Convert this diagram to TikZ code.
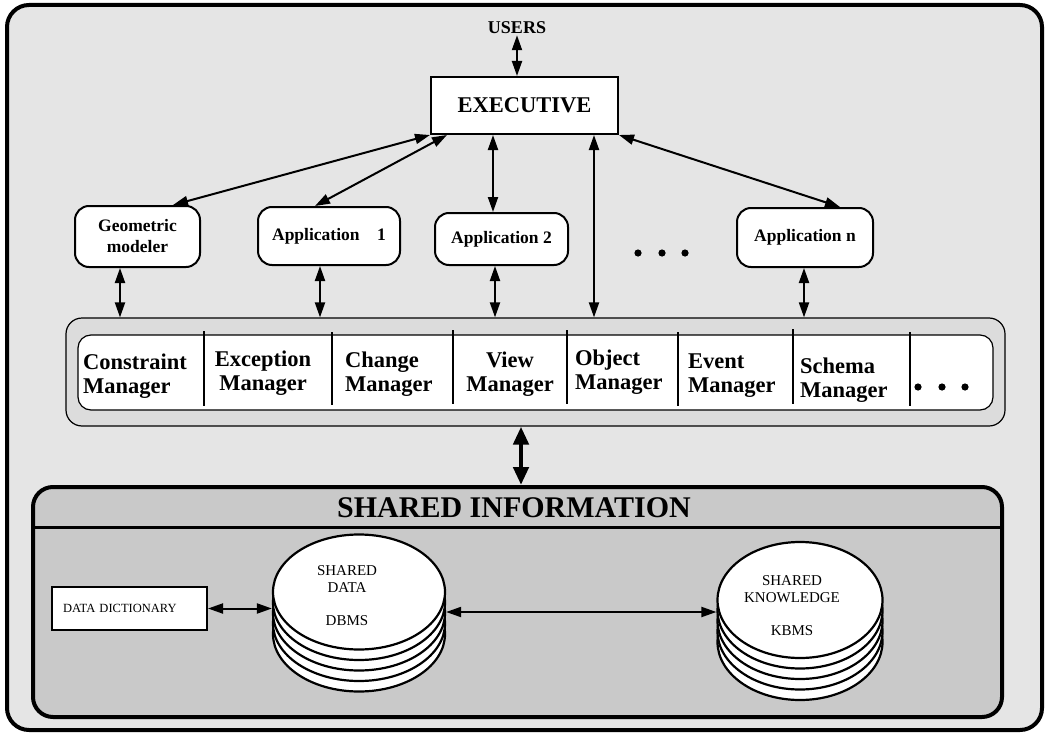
\documentclass[tikz,border=0pt]{standalone}
\usepackage{fontspec}
\setmainfont{Liberation Serif}
\usetikzlibrary{arrows.meta,shapes.geometric}
\definecolor{framebg}{HTML}{E5E5E5}
\definecolor{mgrbg}{HTML}{DCDCDC}
\definecolor{infobg}{HTML}{C9C9C9}
\begin{document}
\begin{tikzpicture}[x=1pt,y=-1pt,
  dbl/.style={{Triangle[length=15pt,width=10pt]}-{Triangle[length=15pt,width=10pt]}, line width=2pt},
  bigdbl/.style={{Triangle[length=18pt,width=15pt]}-{Triangle[length=18pt,width=15pt]}, line width=4.5pt},
  appbox/.style={draw, line width=2pt, fill=white, rounded corners=14pt, inner sep=0pt,
    font=\fontsize{17.5}{21}\selectfont\bfseries, align=center},
  mlabel/.style={font=\fontsize{22.5}{24}\selectfont\bfseries, inner sep=0pt},
  sepline/.style={line width=1.2pt},
  disk/.style={draw, line width=2.2pt, fill=white},
  dlabel/.style={font=\fontsize{15}{17}\selectfont, align=center, inner sep=0pt},
  dot/.style={fill=black}
]
\useasboundingbox (0,0) rectangle (1046,733);

% outer frame
\draw[line width=4pt, fill=framebg, rounded corners=22pt] (7,5) rectangle (1042,730);

% users and executive
\node[font=\fontsize{18}{20}\selectfont\bfseries, inner sep=1pt] (users) at (517,28) {USERS};
\node[draw, line width=2pt, fill=white, minimum width=187pt, minimum height=57pt, inner sep=0pt,
  font=\fontsize{22.5}{24}\selectfont\bfseries] (exec) at (524.5,105.5) {EXECUTIVE};

% application row
\node[appbox, minimum width=125pt, minimum height=61pt] (geo) at (137.5,236.5) {Geometric\\modeler};
\node[appbox, minimum width=142pt, minimum height=58pt] (app1) at (329,236) {Application\quad 1};
\node[appbox, minimum width=133pt, minimum height=52pt] (app2) at (501.5,239) {Application 2};
\node[appbox, minimum width=136pt, minimum height=59pt] (appn) at (805,237.5) {Application n};
\foreach \x in {638,662,685} \fill[dot] (\x,253) circle (3.6);

% manager strip
\node[draw, line width=1.2pt, fill=mgrbg, rounded corners=16pt, minimum width=939pt,
  minimum height=108pt, inner sep=0pt] (mgr) at (535.5,372) {};
\node[draw, line width=1.2pt, fill=white, rounded corners=13pt, minimum width=915pt,
  minimum height=75pt, inner sep=0pt] (mgrin) at (535.5,372.5) {};
\foreach \x/\a/\b in {204/331/406, 332/332/405, 453/330/404, 567/330/404, 678/332/406, 793/329/404, 910/332/406}
  \draw[sepline] (\x,\a) -- (\x,\b);
\node[mlabel, anchor=west, align=left] (cm) at (83,376) {Constraint\\Manager};
\node[mlabel, align=center] (xm) at (263,373) {Exception\\Manager};
\node[mlabel, anchor=west, align=left] (chm) at (345,374) {Change\\Manager};
\node[mlabel, align=center] (vm) at (510,374) {View\\Manager};
\node[mlabel, anchor=west, align=left] (om) at (575,372.5) {Object\\Manager};
\node[mlabel, anchor=west, align=left] (em) at (688,376) {Event\\Manager};
\node[mlabel, anchor=west, align=left] (sm) at (800,380.5) {Schema\\Manager};
\foreach \x in {918,942,965} \fill[dot] (\x,387) circle (3.6);

% shared information
\node[draw, line width=4pt, fill=infobg, rounded corners=20pt, minimum width=969pt,
  minimum height=230pt, inner sep=0pt] (info) at (517.5,602) {};
\draw[line width=3pt] ([yshift=-42pt]info.north west) -- ([yshift=-42pt]info.north east);
\node[font=\fontsize{30}{32}\selectfont\bfseries, inner sep=0pt] (title) at (514,508) {SHARED INFORMATION};

\node[draw, line width=2pt, fill=white, minimum height=43pt, text width=133pt, inner xsep=11pt,
  inner ysep=0pt, align=left, font=\fontsize{12.5}{14}\selectfont] (dd) at (129.5,608.5) {DATA DICTIONARY};

% disk stacks
\coordinate (dbmsc) at (359,592);
\foreach \d in {42,31.5,21,10.5}
  \draw[disk] (dbmsc) ++(0,\d) ellipse [x radius=86, y radius=57.5];
\node[disk, ellipse, minimum width=172pt, minimum height=115pt, inner sep=0pt] (dbms) at (dbmsc) {};
\node[dlabel] (dbmstxt) at (347,596) {SHARED\\DATA\\[16pt]DBMS};

\coordinate (kbmsc) at (800,600);
\foreach \d in {42,31.5,21,10.5}
  \draw[disk] (kbmsc) ++(0,\d) ellipse [x radius=82.5, y radius=58];
\node[disk, ellipse, minimum width=165pt, minimum height=116pt, inner sep=0pt] (kbms) at (kbmsc) {};
\node[dlabel] (kbmstxt) at (792,606) {SHARED\\KNOWLEDGE\\[16pt]KBMS};

% connectors
\draw[dbl] (users.south) -- (users.south |- exec.north);
\draw[dbl] (exec.south west) -- ([xshift=35.5pt]geo.north);
\draw[dbl] ([xshift=17pt]exec.south west) -- ([xshift=-14pt]app1.north);
\draw[dbl] ([xshift=-8.5pt]app2.north |- exec.south) -- ([xshift=-8.5pt]app2.north);
\draw[dbl] ([xshift=58.5pt]mgr.north |- exec.south) -- ([xshift=58.5pt]mgr.north);
\draw[dbl] (exec.south east) -- ([xshift=35pt]appn.north);

\draw[dbl] ([xshift=-17.5pt]geo.south) -- ([xshift=-17.5pt]geo.south |- mgr.north);
\draw[dbl] ([xshift=-9pt]app1.south) -- ([xshift=-9pt]app1.south |- mgr.north);
\draw[dbl] ([xshift=-6.5pt]app2.south) -- ([xshift=-6.5pt]app2.south |- mgr.north);
\draw[dbl] ([xshift=-1pt]appn.south) -- ([xshift=-1pt]appn.south |- mgr.north);

\draw[bigdbl] ([xshift=-14.5pt]mgr.south) -- ([xshift=-14.5pt]mgr.south |- info.north);

\draw[dbl] (dd.east) -- (dd.east -| dbms.west);
\draw[dbl] ([yshift=-20pt]dbms.east) -- ([yshift=-20pt]dbms.east -| kbms.west);
\end{tikzpicture}
\end{document}
